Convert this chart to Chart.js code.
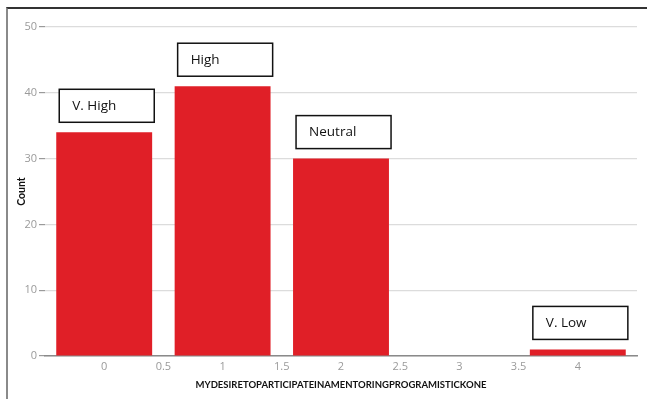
<!DOCTYPE html>
<html>
<head>
<meta charset="utf-8">
<script src="https://cdn.jsdelivr.net/npm/chart.js@4.4.1/dist/chart.umd.min.js"></script>
<style>
  html, body { margin: 0; padding: 0; background: #fff; }
  #wrap { position: relative; width: 647px; height: 399px; }
  #frame { position: absolute; left: 6px; top: 7px; right: 0; bottom: 0;
           border-left: 2px solid #8a8a8a; border-top: 2px solid #333; }
  canvas { position: absolute; left: 0; top: 0; }
</style>
</head>
<body>
<div id="wrap">
  <div id="frame"></div>
  <canvas id="chart" width="647" height="399"></canvas>
</div>
<script>
// Data
const positions = [0, 1, 2, 4];
const counts = [34, 41, 30, 1];
const levelLabels = ['V. High', 'High', 'Neutral', 'V. Low'];
const xTicks = [0, 0.5, 1, 1.5, 2, 2.5, 3, 3.5, 4];
const yTicks = [0, 10, 20, 30, 40, 50];

const xTitle = 'MYDESIRETOPARTICIPATEINAMENTORINGPROGRAMISTICKONE';

// Draws the boxed level names above each bar
const boxLabels = {
    id: 'boxLabels',
    afterDatasetsDraw(chart) {
        const ctx = chart.ctx;
        const meta = chart.getDatasetMeta(0);
        ctx.save();
        meta.data.forEach((bar, i) => {
            const w = 95, h = 33;
            const left = bar.x - bar.width / 2 + 3;
            const top = bar.y - 10 - h;
            ctx.fillStyle = '#fff';
            ctx.fillRect(left, top, w, h);
            ctx.strokeStyle = '#111';
            ctx.lineWidth = 1.5;
            ctx.strokeRect(left, top, w, h);
            ctx.fillStyle = '#111';
            ctx.font = '13.5px "Open Sans", sans-serif';
            ctx.textBaseline = 'middle';
            ctx.fillText(levelLabels[i], left + 13, top + h / 2);
        });
        ctx.restore();
    }
};

new Chart(document.getElementById('chart'), {
    type: 'bar',
    data: {
        datasets: [{
            data: positions.map((x, i) => ({ x: x, y: counts[i] })),
            backgroundColor: '#e01f27',
            borderWidth: 0,
            // the bar ruler also counts the 0.5 tick spacing, so this gives ~0.81 of a unit
            barPercentage: 1.62,
            categoryPercentage: 1
        }]
    },
    options: {
        responsive: false,
        animation: false,
        layout: { padding: { top: 27, right: 10, left: 0, bottom: 0 } },
        plugins: { legend: { display: false }, tooltip: { enabled: false } },
        scales: {
            x: {
                type: 'linear',
                offset: false,
                min: -0.5,
                max: 4.5,
                afterBuildTicks: scale => { scale.ticks = xTicks.map(v => ({ value: v })); },
                afterFit: scale => { scale.height = 43; },
                grid: { display: false, drawTicks: false },
                border: { display: true, color: '#8a8a8a', width: 1.5 },
                ticks: {
                    color: '#9a9a9a',
                    padding: 4,
                    maxRotation: 0,
                    autoSkip: false,
                    callback: v => String(v),
                    font: { family: '"Open Sans", sans-serif', size: 11 }
                },
                title: {
                    display: true,
                    text: xTitle,
                    color: '#111',
                    padding: { top: 2, bottom: 8 },
                    font: { family: 'Lato, sans-serif', size: 9.5, weight: 'bold' }
                }
            },
            y: {
                min: 0,
                max: 50,
                afterBuildTicks: scale => { scale.ticks = yTicks.map(v => ({ value: v })); },
                afterFit: scale => { scale.width = 45; },
                grid: { color: '#dcdcdc', tickColor: '#9a9a9a', tickLength: 6, lineWidth: 1.2 },
                border: { display: false },
                ticks: {
                    color: '#9a9a9a',
                    padding: 2,
                    font: { family: '"Open Sans", sans-serif', size: 11 }
                },
                title: {
                    display: true,
                    text: 'Count',
                    color: '#111',
                    padding: { top: 15, bottom: 0 },
                    font: { family: 'Lato, sans-serif', size: 10.5, weight: 'bold' }
                }
            }
        }
    },
    plugins: [boxLabels]
});
</script>
</body>
</html>
